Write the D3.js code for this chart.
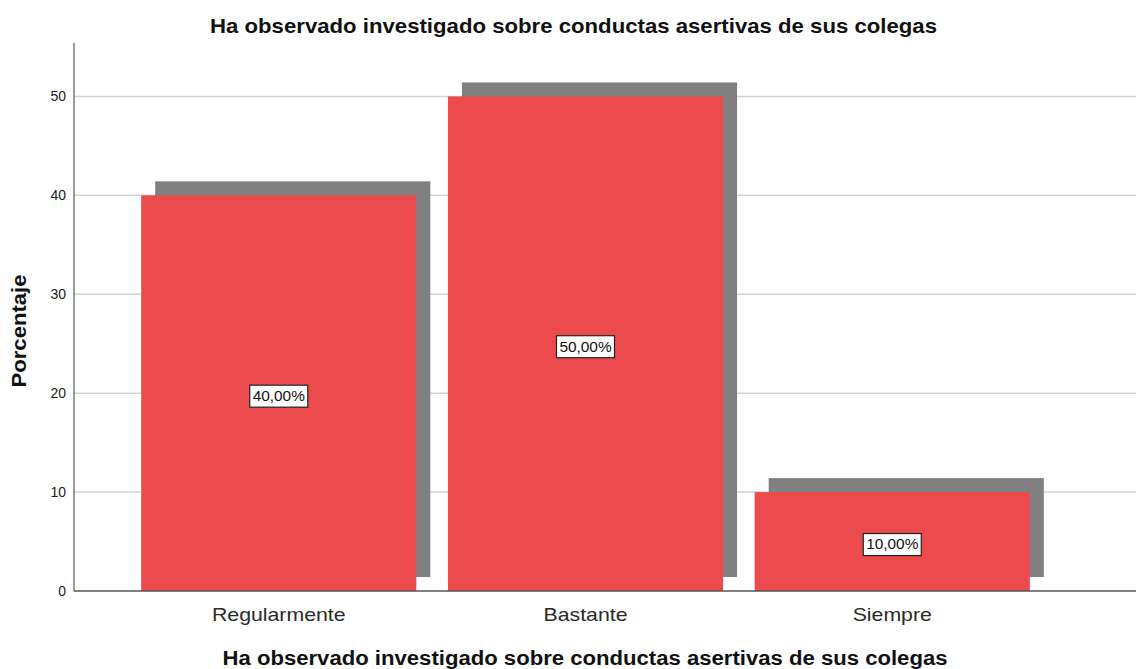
<!DOCTYPE html>
<html><head><meta charset="utf-8">
<script src="https://cdn.jsdelivr.net/npm/d3@7"></script>
<style>body{margin:0;background:#fff}svg{display:block}text{font-family:"Liberation Sans",Arial,sans-serif}</style>
</head><body>
<svg id="c" width="1136" height="669"></svg>
<script>
const categories = ["Regularmente", "Bastante", "Siempre"];
const values = [40, 50, 10];
const labels = ["40,00%", "50,00%", "10,00%"];
const yTicks = [0, 10, 20, 30, 40, 50];
const title = "Ha observado investigado sobre conductas asertivas de sus colegas";
const yTitle = "Porcentaje";

const svg = d3.select("#c");
const W = 1136, H = 669;
const x0 = 74, y0 = 591, yTop = 43;
const y = d3.scaleLinear().domain([0, 55.4]).range([y0, yTop]);
const x = d3.scaleBand().domain(categories).range([x0, 1097]).paddingInner(0.103).paddingOuter(0.219);
const sh = 14;

function stretch(sel, k) {
  sel.each(function () {
    const n = this.getComputedTextLength();
    d3.select(this).attr("textLength", n * k).attr("lengthAdjust", "spacingAndGlyphs");
  });
}

// gridlines
svg.append("g").selectAll("line").data(yTicks.filter(d => d > 0)).join("line")
  .attr("x1", x0).attr("x2", W).attr("y1", d => y(d)).attr("y2", d => y(d))
  .attr("stroke", "#d2d2d2").attr("stroke-width", 1.5);

// shadows
svg.append("g").selectAll("rect").data(values).join("rect")
  .attr("x", (d, i) => x(categories[i]) + sh)
  .attr("y", d => y(d) - sh)
  .attr("width", x.bandwidth())
  .attr("height", d => y0 - y(d))
  .attr("fill", "#808080");

// bars
svg.append("g").selectAll("rect").data(values).join("rect")
  .attr("x", (d, i) => x(categories[i]))
  .attr("y", d => y(d))
  .attr("width", x.bandwidth())
  .attr("height", d => y0 - y(d))
  .attr("fill", "#eb4b4c");

// axes
const yAxis = d3.axisLeft(y).tickValues(yTicks).tickSize(0).tickPadding(8);
const gy = svg.append("g").attr("transform", `translate(${x0},0)`).call(yAxis);
gy.select(".domain").remove();
gy.selectAll("text").attr("font-size", 14).attr("fill", "#222").attr("font-family", "'Liberation Sans',Arial,sans-serif");
svg.append("line").attr("x1", x0).attr("x2", x0).attr("y1", yTop).attr("y2", y0).attr("stroke", "#666").attr("stroke-width", 1.3);
svg.append("line").attr("x1", x0).attr("x2", W).attr("y1", y0).attr("y2", y0).attr("stroke", "#555").attr("stroke-width", 1.3);

const xAxis = d3.axisBottom(x).tickSize(0).tickPadding(17);
const gx = svg.append("g").attr("transform", `translate(0,${y0})`).call(xAxis);
gx.select(".domain").remove();
gx.selectAll("text").attr("font-size", 19).attr("fill", "#2a2a2a").attr("font-family", "'Liberation Sans',Arial,sans-serif");
stretch(gx.selectAll("text"), 1.12);

// value labels
const lg = svg.append("g").selectAll("g").data(values).join("g")
  .attr("transform", (d, i) => `translate(${x(categories[i]) + x.bandwidth() / 2},${y(d / 2) + 3})`);
lg.append("rect").attr("x", -29).attr("y", -11).attr("width", 58).attr("height", 22)
  .attr("fill", "#fff").attr("stroke", "#222").attr("stroke-width", 1.2);
const vt = lg.append("text").text((d, i) => labels[i]).attr("text-anchor", "middle").attr("dy", "0.35em")
  .attr("font-size", 14).attr("fill", "#111");
stretch(vt, 1.1);

// titles
const t1 = svg.append("text").text(title).attr("x", 573.5).attr("y", 33).attr("text-anchor", "middle")
  .attr("font-size", 20.5).attr("font-weight", "bold").attr("fill", "#111");
stretch(t1, 727 / t1.node().getComputedTextLength());
const t2 = svg.append("text").text(title).attr("x", 585).attr("y", 665).attr("text-anchor", "middle")
  .attr("font-size", 20).attr("font-weight", "bold").attr("fill", "#111");
stretch(t2, 725 / t2.node().getComputedTextLength());
const t3 = svg.append("text").text(yTitle).attr("transform", "translate(26,331) rotate(-90)").attr("text-anchor", "middle")
  .attr("font-size", 20).attr("font-weight", "bold").attr("fill", "#111");
stretch(t3, 113 / t3.node().getComputedTextLength());
</script>
</body></html>
